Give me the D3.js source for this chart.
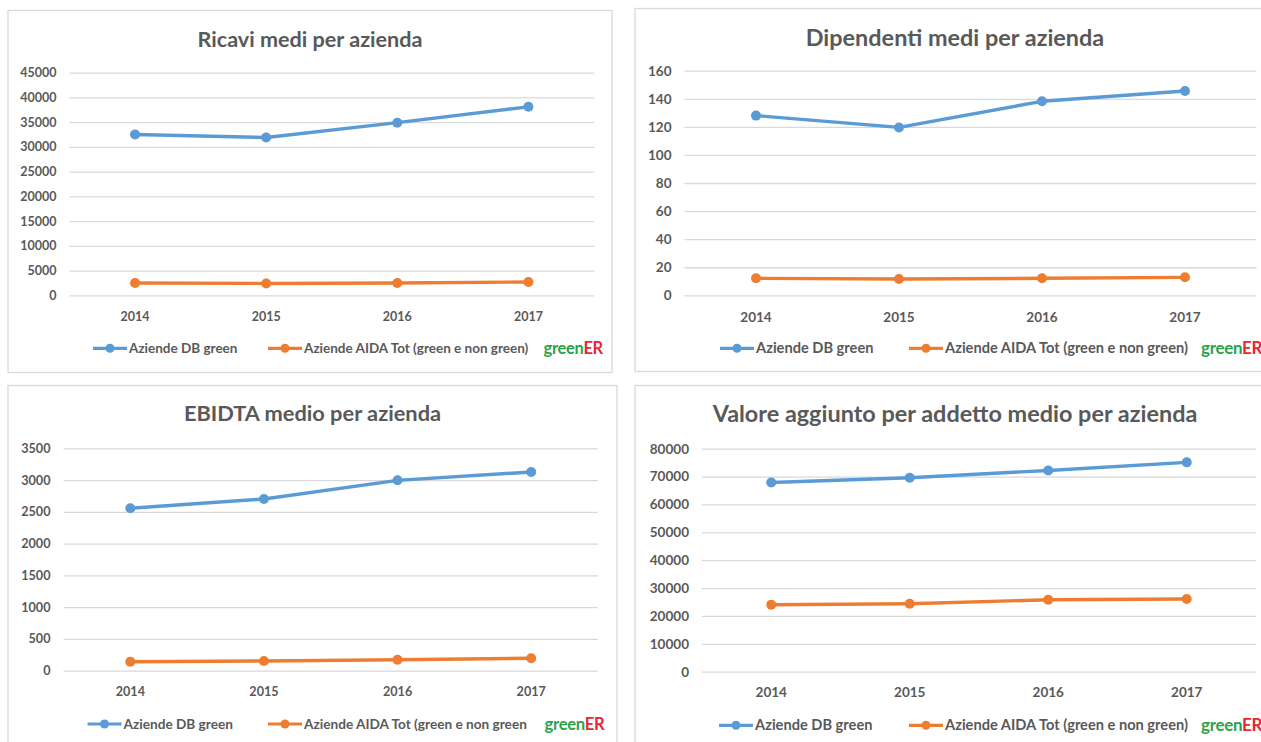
<!DOCTYPE html>
<html>
<head>
<meta charset="utf-8">
<script src="https://cdn.jsdelivr.net/npm/d3@7"></script>
<style>
  html, body { margin: 0; padding: 0; background: #ffffff; }
  svg { display: block; }
  text { font-family: Lato, "Open Sans", sans-serif; }
</style>
</head>
<body>
<svg id="chart" width="1261" height="742"></svg>
<script>
// Years on the category axis
const years = ["2014", "2015", "2016", "2017"];

// Series labels
const seriesGreen = "Aziende DB green";
const seriesAida = "Aziende AIDA Tot (green e non green)";
const seriesAidaShort = "Aziende AIDA Tot (green e non green";

// Ricavi medi per azienda
const ricaviGreen = [32500, 31900, 34900, 38100];
const ricaviAida = [2500, 2400, 2500, 2700];
const ricaviTicks = [0, 5000, 10000, 15000, 20000, 25000, 30000, 35000, 40000, 45000];

// Dipendenti medi per azienda
const dipendentiGreen = [128, 119.6, 138.2, 145.5];
const dipendentiAida = [12.1, 11.6, 12.1, 12.8];
const dipendentiTicks = [0, 20, 40, 60, 80, 100, 120, 140, 160];

// EBIDTA medio per azienda
const ebitdaGreen = [2556, 2702, 2996, 3127];
const ebitdaAida = [142, 153, 173, 195];
const ebitdaTicks = [0, 500, 1000, 1500, 2000, 2500, 3000, 3500];

// Valore aggiunto per addetto medio per azienda
const valoreGreen = [67900, 69600, 72200, 75100];
const valoreAida = [24000, 24400, 25800, 26100];
const valoreTicks = [0, 10000, 20000, 30000, 40000, 50000, 60000, 70000, 80000];

const BLUE = "#5b9bd5";
const ORANGE = "#ed7d31";
const TEXT = "#595959";
const GRID = "#d9d9d9";

// Panel layout: frame box, plot box, title/legend placement, text size factor
const panels = [
  {
    title: "Ricavi medi per azienda",
    green: ricaviGreen, aida: ricaviAida, ticks: ricaviTicks, aidaLabel: seriesAida,
    frame: [8, 10.5, 604, 362], k: 1,
    plot: { x0: 69.5, x1: 594, yTop: 72.7, yBot: 295.3 },
    titleY: 47, xLabelY: 321,
    legend: { y: 348.3, blue: 93, orange: 268, logo: 543.5 }
  },
  {
    title: "Dipendenti medi per azienda",
    green: dipendentiGreen, aida: dipendentiAida, ticks: dipendentiTicks, aidaLabel: seriesAida,
    frame: [635, 8.5, 700, 363], k: 1.085,
    plot: { x0: 684.5, x1: 1256.5, yTop: 70.7, yBot: 295.3 },
    titleX: 955, titleY: 45.5, xLabelY: 321.5,
    legend: { y: 348.3, blue: 720, orange: 909, logo: 1201 }
  },
  {
    title: "EBIDTA medio per azienda",
    green: ebitdaGreen, aida: ebitdaAida, ticks: ebitdaTicks, aidaLabel: seriesAidaShort,
    frame: [8, 385.5, 609, 400], k: 1.01,
    plot: { x0: 63.5, x1: 598, yTop: 448.3, yBot: 670.7 },
    titleY: 421, xLabelY: 695.5,
    legend: { y: 724, blue: 87.5, orange: 268, logo: 544.5 }
  },
  {
    title: "Valore aggiunto per addetto medio per azienda",
    green: valoreGreen, aida: valoreAida, ticks: valoreTicks, aidaLabel: seriesAida,
    frame: [635, 385.5, 700, 400], k: 1.085,
    plot: { x0: 702, x1: 1256, yTop: 448.7, yBot: 671.7 },
    titleX: 955, titleY: 421.5, xLabelY: 696.5,
    legend: { y: 725.3, blue: 719, orange: 909, logo: 1201 }
  }
];

const svg = d3.select("#chart");

panels.forEach(p => {
  const g = svg.append("g");
  const [fx, fy, fw, fh] = p.frame;
  const k = p.k;

  // Panel frame
  g.append("rect")
    .attr("x", fx).attr("y", fy).attr("width", fw).attr("height", fh)
    .attr("fill", "#ffffff").attr("stroke", GRID).attr("stroke-width", 1.3);

  // Title
  g.append("text")
    .attr("x", p.titleX !== undefined ? p.titleX : fx + fw / 2)
    .attr("y", p.titleY)
    .attr("text-anchor", "middle")
    .attr("font-size", 21.6 * k).attr("font-weight", "bold")
    .attr("fill", TEXT)
    .text(p.title);

  const x = d3.scaleBand().domain(years).range([p.plot.x0, p.plot.x1]);
  const y = d3.scaleLinear()
    .domain([0, d3.max(p.ticks)])
    .range([p.plot.yBot, p.plot.yTop]);

  // Horizontal gridlines and value labels
  const yAxis = d3.axisLeft(y)
    .tickValues(p.ticks)
    .tickFormat(d3.format("d"))
    .tickSize(-(p.plot.x1 - p.plot.x0))
    .tickPadding(13);
  const ya = g.append("g")
    .attr("transform", `translate(${p.plot.x0},0)`)
    .call(yAxis);
  ya.select(".domain").remove();
  ya.selectAll(".tick line").attr("stroke", GRID).attr("stroke-width", 1.3);
  ya.selectAll(".tick text")
    .attr("fill", TEXT).attr("font-size", 12.5 * k).attr("font-weight", "bold")
    .attr("font-family", "Lato, sans-serif");

  // Year labels
  const xAxis = d3.axisBottom(x).tickSize(0).tickPadding(0);
  const xa = g.append("g")
    .attr("transform", `translate(0,${p.xLabelY})`)
    .call(xAxis);
  xa.select(".domain").remove();
  xa.selectAll(".tick text")
    .attr("dy", 0)
    .attr("fill", TEXT).attr("font-size", 12.5 * k).attr("font-weight", "bold")
    .attr("font-family", "Lato, sans-serif");

  const cx = d => x(d) + x.bandwidth() / 2;
  const line = d3.line()
    .x((d, i) => cx(years[i]))
    .y(d => y(d));

  [[p.aida, ORANGE], [p.green, BLUE]].forEach(([vals, color]) => {
    g.append("path")
      .datum(vals)
      .attr("d", line)
      .attr("fill", "none")
      .attr("stroke", color)
      .attr("stroke-width", 3.4)
      .attr("stroke-linejoin", "round")
      .attr("stroke-linecap", "round");
    g.selectAll(null)
      .data(vals)
      .enter().append("circle")
      .attr("cx", (d, i) => cx(years[i]))
      .attr("cy", d => y(d))
      .attr("r", 5)
      .attr("fill", color);
  });

  // Legend
  const L = p.legend;
  const legendItems = [
    { x: L.blue, color: BLUE, label: seriesGreen },
    { x: L.orange, color: ORANGE, label: p.aidaLabel }
  ];
  legendItems.forEach(it => {
    g.append("line")
      .attr("x1", it.x).attr("x2", it.x + 34)
      .attr("y1", L.y).attr("y2", L.y)
      .attr("stroke", it.color).attr("stroke-width", 3.2);
    g.append("circle")
      .attr("cx", it.x + 17).attr("cy", L.y).attr("r", 4.5)
      .attr("fill", it.color);
    g.append("text")
      .attr("x", it.x + 36).attr("y", L.y + 4.7 * k)
      .attr("font-size", 13.5 * k).attr("font-weight", "bold")
      .attr("fill", TEXT)
      .text(it.label);
  });

  // greenER mark
  const logo = g.append("text")
    .attr("x", L.logo).attr("y", L.y + 6)
    .attr("font-size", 16.5 * Math.min(k, 1.03)).attr("font-weight", "bold")
    .attr("letter-spacing", -0.3);
  logo.append("tspan").attr("fill", "#2ba24c").text("green");
  logo.append("tspan").attr("fill", "#ec2434").text("ER");
});
</script>
</body>
</html>
